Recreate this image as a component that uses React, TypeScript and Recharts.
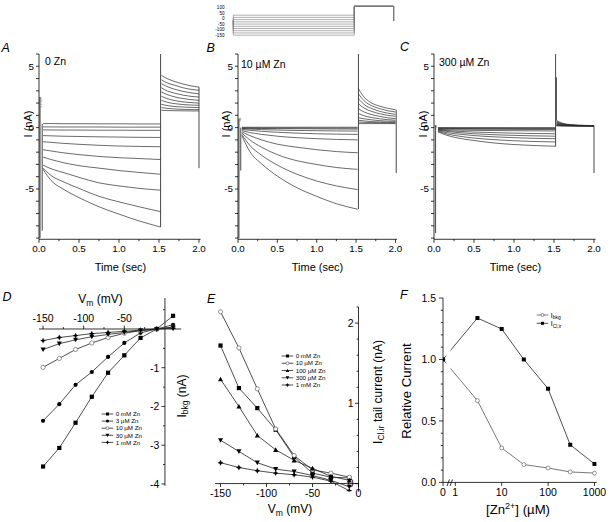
import React from 'react';
import { LineChart, Line, XAxis, YAxis, ReferenceLine } from 'recharts';

const FONT = 'Arial, "Liberation Sans", Helvetica, sans-serif';

// ---------- A/B/C : current traces (nA), sweeps ordered from most positive step ----------
const STEP_T = [0.05, 0.15, 0.3, 0.5, 0.75, 1.0, 1.25, 1.52];
const TAIL_T = [1.53, 1.6, 1.7, 1.8, 1.9, 2.0];
const HOLD_T = [0.005, 0.04];

const A_STEP = [
  [0.33, 0.33, 0.32, 0.32, 0.31, 0.31, 0.3, 0.3],
  [0.06, 0.06, 0.05, 0.05, 0.05, 0.04, 0.04, 0.04],
  [-0.18, -0.19, -0.2, -0.2, -0.21, -0.21, -0.22, -0.22],
  [-0.65, -0.67, -0.7, -0.72, -0.75, -0.77, -0.79, -0.8],
  [-1.15, -1.2, -1.28, -1.36, -1.44, -1.5, -1.53, -1.56],
  [-1.8, -1.9, -2.05, -2.2, -2.35, -2.45, -2.52, -2.6],
  [-2.4, -2.6, -2.85, -3.1, -3.3, -3.5, -3.65, -3.8],
  [-3.05, -3.35, -3.65, -4.05, -4.5, -4.75, -4.95, -5.1],
  [-3.3, -3.9, -4.4, -4.95, -5.6, -6.05, -6.45, -6.85],
  [-3.4, -4.3, -5.0, -5.7, -6.45, -7.05, -7.6, -8.1],
];
const A_TAIL = [
  [1.41, 1.39, 1.38, 1.37, 1.36, 1.36],
  [1.63, 1.57, 1.52, 1.49, 1.47, 1.46],
  [1.9, 1.8, 1.72, 1.68, 1.65, 1.63],
  [2.22, 2.07, 1.95, 1.88, 1.84, 1.82],
  [2.55, 2.37, 2.2, 2.1, 2.04, 2.0],
  [2.9, 2.7, 2.5, 2.37, 2.28, 2.22],
  [3.25, 3.0, 2.8, 2.65, 2.55, 2.49],
  [3.58, 3.35, 3.12, 2.95, 2.83, 2.76],
  [3.9, 3.65, 3.45, 3.25, 3.12, 3.04],
  [4.25, 4.0, 3.75, 3.55, 3.4, 3.3],
];
// [time, from, to] transients
const A_SPIKES = [[0.04, 0.3, -8.4], [1.52, -8.1, 6.0], [2.0, 3.3, -3.3]];
const A_GRAY = [[0.012, 2.5, -9.0]];
const A_HOLD = [2.4, 2.25, 2.1, 1.9, 1.7];

const B_STEP = [
  [0.03, 0.03, 0.03, 0.03, 0.03, 0.03, 0.03, 0.03],
  [-0.02, -0.02, -0.03, -0.03, -0.03, -0.04, -0.04, -0.04],
  [-0.05, -0.06, -0.07, -0.08, -0.09, -0.1, -0.11, -0.12],
  [-0.08, -0.12, -0.16, -0.2, -0.23, -0.25, -0.27, -0.28],
  [-0.15, -0.22, -0.3, -0.38, -0.45, -0.5, -0.53, -0.55],
  [-0.25, -0.4, -0.55, -0.7, -0.82, -0.9, -0.96, -1.0],
  [-0.35, -0.65, -1.0, -1.35, -1.6, -1.8, -1.95, -2.05],
  [-0.45, -1.0, -1.6, -2.2, -2.7, -3.0, -3.25, -3.4],
  [-0.55, -1.45, -2.25, -3.05, -3.8, -4.35, -4.75, -5.05],
  [-0.65, -1.95, -2.95, -3.95, -4.9, -5.6, -6.2, -6.65],
];
const B_TAIL = [
  [0.33, 0.33, 0.33, 0.33, 0.33, 0.33],
  [0.46, 0.43, 0.41, 0.4, 0.39, 0.38],
  [0.6, 0.55, 0.49, 0.46, 0.44, 0.43],
  [0.81, 0.72, 0.63, 0.57, 0.53, 0.51],
  [1.14, 0.97, 0.82, 0.72, 0.65, 0.6],
  [1.54, 1.28, 1.06, 0.92, 0.8, 0.73],
  [1.95, 1.6, 1.32, 1.13, 1.0, 0.92],
  [2.36, 1.9, 1.55, 1.33, 1.18, 1.08],
  [2.76, 2.2, 1.78, 1.55, 1.38, 1.27],
  [3.17, 2.5, 2.0, 1.75, 1.58, 1.46],
];
const B_SPIKES = [[0.035, 0.0, -3.5], [1.53, -6.65, 6.0], [2.01, 1.46, -3.7]];
const B_GRAY = [[0.01, 0.7, -9.0]];
const B_HOLD = [0.75, 0.65, 0.55];

const C_STEP = [
  [0.0, 0.0, 0.0, 0.0, 0.0, 0.0, 0.0, 0.0],
  [-0.03, -0.03, -0.04, -0.04, -0.04, -0.05, -0.05, -0.05],
  [-0.06, -0.07, -0.07, -0.08, -0.08, -0.09, -0.09, -0.09],
  [-0.1, -0.11, -0.12, -0.13, -0.14, -0.14, -0.15, -0.15],
  [-0.14, -0.17, -0.2, -0.22, -0.24, -0.25, -0.26, -0.27],
  [-0.17, -0.24, -0.3, -0.36, -0.41, -0.45, -0.48, -0.5],
  [-0.2, -0.3, -0.4, -0.5, -0.58, -0.63, -0.67, -0.7],
  [-0.25, -0.4, -0.52, -0.65, -0.75, -0.82, -0.87, -0.9],
  [-0.3, -0.5, -0.68, -0.85, -0.98, -1.07, -1.13, -1.17],
  [-0.35, -0.6, -0.85, -1.05, -1.25, -1.38, -1.46, -1.52],
];
const C_TAIL = [
  [0.15, 0.14, 0.14, 0.13, 0.13, 0.13],
  [0.17, 0.15, 0.14, 0.14, 0.14, 0.13],
  [0.2, 0.16, 0.15, 0.14, 0.14, 0.14],
  [0.25, 0.18, 0.16, 0.15, 0.15, 0.14],
  [0.3, 0.2, 0.17, 0.16, 0.15, 0.15],
  [0.35, 0.23, 0.18, 0.16, 0.16, 0.15],
  [0.4, 0.26, 0.2, 0.17, 0.16, 0.16],
  [0.45, 0.29, 0.21, 0.18, 0.17, 0.16],
  [0.52, 0.33, 0.23, 0.19, 0.17, 0.17],
  [0.6, 0.37, 0.25, 0.2, 0.18, 0.17],
];
const C_SPIKES = [[0.02, 0.2, -8.6], [1.52, -1.52, 6.0], [1.53, 0.6, 4.1], [2.0, 0.17, -3.7]];
const C_GRAY: number[][] = [];
const C_HOLD = [0.15, 0.05];

// ---------- protocol inset (mV) ----------
const INSET_STEPS = [30, 10, -10, -30, -50, -70, -90, -110, -130, -150];
const INSET_TAIL = 110;
const INSET_HOLD = -20;
const INSET_T = [0.04, 1.52, 2.0];
const INSET_LABELS = [100, 50, 0, -50, -100, -150];

// ---------- D : I_bkg vs Vm ----------
const D_V = [-150, -130, -110, -90, -70, -50, -30, -10, 10];
const D_0MM = [-3.55, -3.07, -2.42, -1.75, -1.13, -0.68, -0.23, 0.0, 0.34];
const D_3UM = [-2.37, -1.94, -1.44, -1.11, -0.72, -0.36, -0.1, 0.0, 0.11];
const D_10UM = [-0.99, -0.76, -0.53, -0.36, -0.22, -0.11, -0.04, 0.0, 0.05];
const D_30UM = [-0.53, -0.38, -0.28, -0.2, -0.14, -0.09, -0.04, 0.0, 0.04];
const D_1MM = [-0.3, -0.22, -0.17, -0.12, -0.09, -0.06, -0.03, 0.0, 0.02];

// ---------- E : I_Cl,ir tail current vs Vm ----------
const E_V = [-150, -130, -110, -90, -70, -50, -30, -10];
const E_0MM = [1.72, 1.19, 0.94, 0.67, 0.33, 0.13, 0.08, 0.07];
const E_10UM = [2.14, 1.69, 1.18, 0.68, 0.35, 0.17, 0.13, 0.08];
const E_100UM = [1.3, 0.96, 0.6, 0.42, 0.29, 0.19, 0.09, 0.04];
const E_300UM = [0.54, 0.4, 0.26, 0.18, 0.15, 0.1, 0.04, -0.04];
const E_1MM = [0.26, 0.2, 0.16, 0.13, 0.11, 0.08, 0.03, -0.09];

// ---------- F : relative current vs [Zn] ----------
const F_CONC = [0, 3, 10, 30, 100, 300, 1000];
const F_BKG = [1.0, 0.665, 0.28, 0.145, 0.117, 0.085, 0.076];
const F_CLIR = [1.0, 1.337, 1.248, 1.0, 0.762, 0.306, 0.15];
const F_TICK_CONC = [0, 1, 10, 100, 1000];

// ---------- helpers ----------
const range = (a: number, b: number, step: number) => {
  const out: number[] = [];
  for (let v = a; v <= b + 1e-9; v += step) out.push(Math.round(v * 1000) / 1000);
  return out;
};
const AXIS = { stroke: '#000', strokeWidth: 0.8 };
const PAD = 45;
type Rect = { x: number; y: number; w: number; h: number };

type TickSpec = {
  side: 'bottom' | 'top' | 'left';
  majors: number[];
  fmt?: (v: number) => string;
  off?: number;
  len?: number;
  gap?: number;
  fs?: number;
  noLine?: boolean;
};
const isMajor = (ms: number[], v: number) => ms.some((m) => Math.abs(m - v) < 1e-6);

const makeTick = (s: TickSpec) => (props: any) => {
  const { x, y, payload } = props;
  const v = Number(payload.value);
  const major = isMajor(s.majors, v);
  const base = s.len ?? 3.5;
  const len = s.noLine ? 0 : major ? base : base * 0.55;
  const fs = s.fs ?? 10;
  const gap = s.gap ?? 1.5;
  const text = major ? (s.fmt ? s.fmt(v) : String(v)) : '';
  const off = s.off ?? 0;
  const tp = { fontSize: fs, fontFamily: FONT, fill: '#000' };
  if (s.side === 'bottom') {
    const b = y + off;
    return (
      <g>
        {len > 0 && <line x1={x} x2={x} y1={b} y2={b + len} {...AXIS} />}
        {text !== '' && <text x={x} y={b + len + gap + fs * 0.78} textAnchor="middle" {...tp}>{text}</text>}
      </g>
    );
  }
  if (s.side === 'top') {
    const b = y + off;
    return (
      <g>
        {len > 0 && <line x1={x} x2={x} y1={b} y2={b - len} {...AXIS} />}
        {text !== '' && <text x={x} y={b - len - gap} textAnchor="middle" {...tp}>{text}</text>}
      </g>
    );
  }
  const a = x + off;
  return (
    <g>
      {len > 0 && <line x1={a} x2={a - len} y1={y} y2={y} {...AXIS} />}
      {text !== '' && <text x={a - len - gap} y={y + fs * 0.36} textAnchor="end" {...tp}>{text}</text>}
    </g>
  );
};

function Marker({ shape, x, y, s }: { shape: string; x: number; y: number; s: number }) {
  if (shape === 'square') return <rect x={x - s} y={y - s} width={2 * s} height={2 * s} fill="#000" />;
  if (shape === 'circle') return <circle cx={x} cy={y} r={s} fill="#000" />;
  if (shape === 'open') return <circle cx={x} cy={y} r={s} fill="#fff" stroke="#666" strokeWidth={0.7} />;
  if (shape === 'down')
    return <path d={`M${x - s * 1.2},${y - s} L${x + s * 1.2},${y - s} L${x},${y + s * 1.2} Z`} fill="#000" />;
  if (shape === 'up')
    return <path d={`M${x - s * 1.2},${y + s} L${x + s * 1.2},${y + s} L${x},${y - s * 1.2} Z`} fill="#000" />;
  const k = s * 1.4;
  const q = s * 0.45;
  return (
    <path
      d={`M${x},${y - k} L${x + q},${y - q} L${x + k},${y} L${x + q},${y + q} L${x},${y + k} L${x - q},${y + q} L${x - k},${y} L${x - q},${y - q} Z`}
      fill="#000"
    />
  );
}
const dotFor = (shape: string, s = 2.1) => (p: any) => (
  <Marker key={`m${p.index}`} shape={shape} x={p.cx} y={p.cy} s={s} />
);

// axes are given size 1 (recharts skips axes of size 0); sides lists where they sit
function Frame({ r, sides, children }: { r: Rect; sides: string; children: React.ReactNode }) {
  const m = (k: string) => PAD - (sides.includes(k) ? 1 : 0);
  return (
    <div style={{ position: 'absolute', left: r.x - PAD, top: r.y - PAD }}>
      <LineChart
        width={r.w + 2 * PAD}
        height={r.h + 2 * PAD}
        margin={{ top: m('t'), right: m('r'), bottom: m('b'), left: m('l') }}
      >
        {children}
      </LineChart>
    </div>
  );
}

// ---------- trace panels ----------
type TraceCfg = { rect: Rect; step: number[][]; tail: number[][]; spikes: number[][]; gray: number[][]; hold: number[] };
const PANELS: TraceCfg[] = [
  { rect: { x: 39.3, y: 53.7, w: 161.6, h: 185.3 }, step: A_STEP, tail: A_TAIL, spikes: A_SPIKES, gray: A_GRAY, hold: A_HOLD },
  { rect: { x: 237.7, y: 53.7, w: 159.0, h: 185.3 }, step: B_STEP, tail: B_TAIL, spikes: B_SPIKES, gray: B_GRAY, hold: B_HOLD },
  { rect: { x: 434.3, y: 53.7, w: 161.6, h: 185.3 }, step: C_STEP, tail: C_TAIL, spikes: C_SPIKES, gray: C_GRAY, hold: C_HOLD },
];
const TIME_TICKS = range(0, 2, 0.25);
const I_TICKS = [-9, -8, -7, -6, -5, -4, -3, -2, -1, 0, 1, 2, 3, 4, 5, 6];
const I_MAJORS = [-5, 0, 5];
const TRACE = '#2b2b2b';

const seg = (ts: number[], vs: number[]) => ts.map((t, k) => ({ t, i: vs[k] }));
const vert = (s: number[]) => [{ t: s[0], i: s[1] }, { t: s[0], i: s[2] }];

function TracePanel({ p }: { p: TraceCfg }) {
  const common = { dataKey: 'i', dot: false, activeDot: false, isAnimationActive: false } as const;
  return (
    <Frame r={p.rect} sides="bl">
      <XAxis
        type="number" dataKey="t" domain={[0, 2.02]} allowDataOverflow ticks={TIME_TICKS} interval={0}
        height={1} tickSize={0} tickMargin={0} tickLine={false} axisLine={AXIS}
        tick={makeTick({ side: 'bottom', majors: [0, 0.5, 1, 1.5, 2], fmt: (v) => v.toFixed(1), fs: 9.8 })}
      />
      <YAxis
        type="number" domain={[-9.1, 6]} allowDataOverflow ticks={I_TICKS} interval={0}
        width={1} tickSize={3} tickMargin={2} axisLine={AXIS} tickLine={AXIS}
        tick={{ fontSize: 9.8, fill: '#000', fontFamily: FONT }}
        tickFormatter={(v: number) => (I_MAJORS.includes(v) ? String(v) : '')}
      />
      {p.gray.map((s, j) => (
        <Line key={`g${j}`} {...common} data={vert(s)} type="linear" stroke="#9a9a9a" strokeWidth={2} />
      ))}
      {p.hold.map((v, j) => (
        <Line key={`h${j}`} {...common} data={seg(HOLD_T, [v, v])} type="linear" stroke="#8a8a8a" strokeWidth={0.7} />
      ))}
      {p.step.map((vals, j) => (
        <Line key={`s${j}`} {...common} data={seg(STEP_T, vals)} type="monotone" stroke={TRACE} strokeWidth={0.7} />
      ))}
      {p.tail.map((vals, j) => (
        <Line key={`t${j}`} {...common} data={seg(TAIL_T, vals)} type="monotone" stroke={TRACE} strokeWidth={0.7} />
      ))}
      {p.spikes.map((s, j) => (
        <Line key={`k${j}`} {...common} data={vert(s)} type="linear" stroke="#333" strokeWidth={0.9} />
      ))}
    </Frame>
  );
}

function Inset() {
  const r = { x: 229.7, y: 2.8, w: 167.7, h: 34.4 };
  const [t0, t1, t2] = INSET_T;
  return (
    <Frame r={r} sides="l">
      <XAxis type="number" dataKey="t" domain={[0, 2.05]} allowDataOverflow hide />
      <YAxis
        type="number" domain={[-170, 140]} allowDataOverflow ticks={INSET_LABELS} interval={0}
        width={1} tickSize={0} tickMargin={0} tickLine={false} axisLine={false}
        tick={makeTick({ side: 'left', majors: INSET_LABELS, noLine: true, fs: 4.6, off: -4 })}
      />
      {INSET_STEPS.map((v, j) => (
        <Line
          key={j}
          data={[
            { t: t0, v: INSET_HOLD }, { t: t0, v }, { t: t1, v }, { t: t1, v: INSET_TAIL },
            { t: t2, v: INSET_TAIL }, { t: t2, v: INSET_HOLD },
          ]}
          dataKey="v" type="linear" stroke="#7a7a7a" strokeWidth={0.6} dot={false} activeDot={false}
          isAnimationActive={false}
        />
      ))}
    </Frame>
  );
}

// ---------- D ----------
const D_R: Rect = { x: 38.6, y: 298.3, w: 142.2, h: 187.9 };
const D_XD = [-155, 20];
const D_YD = [-4.05, 0.8];
const D_SERIES = [
  { name: '0 mM Zn', vals: D_0MM, shape: 'square' },
  { name: '3 \u00b5M Zn', vals: D_3UM, shape: 'circle' },
  { name: '10 \u00b5M Zn', vals: D_10UM, shape: 'open' },
  { name: '30 \u00b5M Zn', vals: D_30UM, shape: 'down' },
  { name: '1 mM Zn', vals: D_1MM, shape: 'star' },
];

function PanelD() {
  const offX = (D_R.w * (0 - D_XD[0])) / (D_XD[1] - D_XD[0]);
  const offY = (D_R.h * D_YD[1]) / (D_YD[1] - D_YD[0]);
  return (
    <Frame r={D_R} sides="tl">
      <XAxis
        type="number" dataKey="v" orientation="top" domain={D_XD} allowDataOverflow
        ticks={[-150, -125, -100, -75, -50, -25]} interval={0}
        height={1} tickSize={0} tickMargin={0} tickLine={false} axisLine={false}
        tick={makeTick({ side: 'top', majors: [-150, -100, -50], off: offY, fs: 10.5, gap: 3.5 })}
      />
      <YAxis
        type="number" domain={D_YD} allowDataOverflow ticks={[0.5, -0.5, -1, -1.5, -2, -2.5, -3, -3.5, -4]}
        interval={0} width={1} tickSize={0} tickMargin={0} tickLine={false} axisLine={false}
        tick={makeTick({ side: 'left', majors: [-1, -2, -3, -4], off: offX, fs: 10.5, gap: 2 })}
      />
      <ReferenceLine x={0} stroke="#000" strokeWidth={0.8} />
      <ReferenceLine y={0} stroke="#000" strokeWidth={0.8} />
      {D_SERIES.map((s) => (
        <Line
          key={s.name} name={s.name} data={D_V.map((v, k) => ({ v, y: s.vals[k] }))} dataKey="y"
          type="linear" stroke="#222" strokeWidth={0.8} dot={dotFor(s.shape)} activeDot={false}
          isAnimationActive={false}
        />
      ))}
    </Frame>
  );
}

// ---------- E ----------
const E_R: Rect = { x: 215.2, y: 306.7, w: 143.5, h: 184.6 };
const E_XD = [-156, 0];
const E_YD = [-0.1, 2.2];
const E_SERIES = [
  { name: '0 mM Zn', vals: E_0MM, shape: 'square' },
  { name: '10 \u00b5M Zn', vals: E_10UM, shape: 'open' },
  { name: '100 \u00b5M Zn', vals: E_100UM, shape: 'up' },
  { name: '300 \u00b5M Zn', vals: E_300UM, shape: 'down' },
  { name: '1 mM Zn', vals: E_1MM, shape: 'star' },
];

function PanelE() {
  const offY = -(E_R.h * (0 - E_YD[0])) / (E_YD[1] - E_YD[0]);
  return (
    <Frame r={E_R} sides="br">
      <XAxis
        type="number" dataKey="v" domain={E_XD} allowDataOverflow ticks={[-150, -125, -100, -75, -50, -25, 0]}
        interval={0} height={1} tickSize={0} tickMargin={0} tickLine={false} axisLine={false}
        tick={makeTick({ side: 'bottom', majors: [-150, -100, -50, 0], off: offY, fs: 10.5 })}
      />
      <YAxis
        type="number" orientation="right" domain={E_YD} allowDataOverflow ticks={range(0, 2.2, 0.2)}
        interval={0} width={1} tickSize={0} tickMargin={0} tickLine={false} axisLine={AXIS}
        tick={makeTick({ side: 'left', majors: [0, 1, 2], fs: 10.5, gap: 1.5 })}
      />
      <ReferenceLine y={0} stroke="#000" strokeWidth={0.8} />
      {E_SERIES.map((s) => (
        <Line
          key={s.name} name={s.name} data={E_V.map((v, k) => ({ v, y: s.vals[k] }))} dataKey="y"
          type="linear" stroke="#222" strokeWidth={0.8} dot={dotFor(s.shape)} activeDot={false}
          isAnimationActive={false}
        />
      ))}
    </Frame>
  );
}

// ---------- F ----------
const F_R: Rect = { x: 442.7, y: 298.3, w: 153.8, h: 184.4 };
const ZERO_POS = -0.265; // position of the "0" concentration left of the axis break (log units)
const concPos = (c: number) => (c === 0 ? ZERO_POS : Math.log10(c));
const F_SERIES = [
  { key: 'bkg', vals: F_BKG, shape: 'open', stroke: '#555' },
  { key: 'clir', vals: F_CLIR, shape: 'square', stroke: '#222' },
];

function PanelF() {
  const ticks = F_TICK_CONC.map(concPos);
  const fmt = (u: number) => String(F_TICK_CONC[ticks.findIndex((t) => Math.abs(t - u) < 1e-6)]);
  return (
    <Frame r={F_R} sides="bl">
      <XAxis
        type="number" dataKey="u" domain={[ZERO_POS, 3.05]} allowDataOverflow ticks={ticks} interval={0}
        height={1} tickSize={0} tickMargin={0} tickLine={false} axisLine={AXIS}
        tick={makeTick({ side: 'bottom', majors: ticks, fmt, fs: 10.5 })}
      />
      <YAxis
        type="number" domain={[0, 1.5]} allowDataOverflow ticks={range(0, 1.5, 0.1)} interval={0}
        width={1} tickSize={0} tickMargin={0} tickLine={false} axisLine={AXIS}
        tick={makeTick({ side: 'left', majors: [0, 0.5, 1, 1.5], fmt: (v) => v.toFixed(1), fs: 10.5, len: 4, gap: 3 })}
      />
      {F_SERIES.map((s) => (
        <Line
          key={s.key} data={F_CONC.map((c, k) => ({ u: concPos(c), y: s.vals[k] }))} dataKey="y"
          type="linear" stroke={s.stroke} strokeWidth={0.8} dot={dotFor(s.shape, 2)} activeDot={false}
          isAnimationActive={false}
        />
      ))}
    </Frame>
  );
}

// ---------- overlay text ----------
function LegendRows({ x, y0, dy, items, fs }: { x: number; y0: number; dy: number; items: { name: React.ReactNode; shape: string; stroke?: string }[]; fs: number }) {
  return (
    <g>
      {items.map((it, j) => {
        const y = y0 + j * dy;
        return (
          <g key={j}>
            <line x1={x} x2={x + 11.5} y1={y} y2={y} stroke={it.stroke ?? '#222'} strokeWidth={0.8} />
            <Marker shape={it.shape} x={x + 5.8} y={y} s={1.5} />
            <text x={x + 14} y={y + fs * 0.36} fontSize={fs}>{it.name}</text>
          </g>
        );
      })}
    </g>
  );
}

function Overlay() {
  const rot = (cx: number, cy: number) => `translate(${cx},${cy}) rotate(-90)`;
  return (
    <svg width={610} height={522} style={{ position: 'absolute', left: 0, top: 0, pointerEvents: 'none' }} fontFamily={FONT}>
      {/* F axis break */}
      <rect x={446.3} y={338} width={4.2} height={40} fill="#fff" />
      <line x1={447} y1={486} x2={449.5} y2={479.5} stroke="#000" strokeWidth={0.8} />
      <line x1={450} y1={486} x2={452.5} y2={479.5} stroke="#000" strokeWidth={0.8} />

      {/* panel letters */}
      <g fontSize={12.5} fontStyle="italic">
        <text x={1.5} y={52}>A</text>
        <text x={206.5} y={52}>B</text>
        <text x={400} y={51}>C</text>
        <text x={2.5} y={301}>D</text>
        <text x={207} y={303}>E</text>
        <text x={400} y={298.5}>F</text>
      </g>

      {/* conditions */}
      <g fontSize={10.5}>
        <text x={45} y={65}>0 Zn</text>
        <text x={241} y={67.5}>10 µM Zn</text>
        <text x={439} y={66}>300 µM Zn</text>
      </g>

      {/* A-C axis titles */}
      <g fontSize={11} textAnchor="middle">
        <text x={120.5} y={271}>Time (sec)</text>
        <text x={317.5} y={271}>Time (sec)</text>
        <text x={515.5} y={271}>Time (sec)</text>
        <text transform={rot(27.5, 124)} dominantBaseline="central">I (nA)</text>
        <text transform={rot(225.8, 124)} dominantBaseline="central">I (nA)</text>
        <text transform={rot(422.5, 124)} dominantBaseline="central">I (nA)</text>
      </g>

      {/* D/E axis titles */}
      <g fontSize={12} textAnchor="middle">
        <text x={100.5} y={303}>
          V<tspan fontSize={8.5} dy={3}>m</tspan>
          <tspan dy={-3}> (mV)</tspan>
        </text>
        <text transform={rot(181.5, 396)} dominantBaseline="central">
          I<tspan fontSize={8.5} dy={3}>bkg</tspan>
          <tspan dy={-3}> (nA)</tspan>
        </text>
        <text x={290} y={513}>
          V<tspan fontSize={8.5} dy={3}>m</tspan>
          <tspan dy={-3}> (mV)</tspan>
        </text>
        <text transform={rot(378, 392)} dominantBaseline="central">
          I<tspan fontSize={8.5} dy={3}>Cl.ir</tspan>
          <tspan dy={-3}> tail current  (nA)</tspan>
        </text>
      </g>
      {/* F axis titles */}
      <g fontSize={13.2} textAnchor="middle">
        <text transform={rot(406, 391)} dominantBaseline="central">Relative Current</text>
        <text x={518} y={514}>
          [Zn<tspan fontSize={9} dy={-5}>2+</tspan>
          <tspan dy={5}>] (µM)</tspan>
        </text>
      </g>

      {/* legends */}
      <LegendRows x={101.7} y0={414} dy={7.1} fs={6.2} items={D_SERIES} />
      <LegendRows x={281.7} y0={356} dy={7.25} fs={6.2} items={E_SERIES} />
      <LegendRows
        x={536.7} y0={315} dy={8.3} fs={7}
        items={[
          { name: <>I<tspan fontSize={5} dy={1.8}>bkg</tspan></>, shape: 'open', stroke: '#555' },
          { name: <>I<tspan fontSize={5} dy={1.8}>Cl,ir</tspan></>, shape: 'square' },
        ]}
      />
    </svg>
  );
}

export default function App() {
  return (
    <div style={{ position: 'absolute', left: 0, top: 0, width: 610, height: 522, background: '#fff', overflow: 'hidden', fontFamily: FONT }}>
      <Inset />
      {PANELS.map((p, j) => (
        <TracePanel key={j} p={p} />
      ))}
      <PanelD />
      <PanelE />
      <PanelF />
      <Overlay />
    </div>
  );
}
